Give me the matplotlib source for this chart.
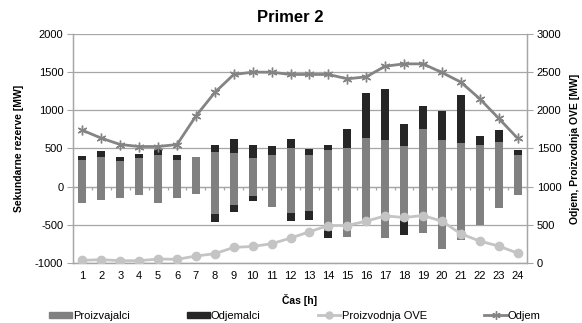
import matplotlib.pyplot as plt
import matplotlib.patches as mpatches
import matplotlib.lines as mlines
import numpy as np

plt.rcParams.update({
    "font.family": ["Liberation Sans", "DejaVu Sans"],
    "font.size": 8,
    "axes.unicode_minus": False,
})

# hours
hours = np.arange(1, 25)

# secondary reserve (left axis), upward / downward parts
proizv_up = [350, 395, 340, 375, 415, 350, 390, 455, 440, 380, 410, 510,
             410, 475, 505, 640, 605, 535, 750, 615, 575, 545, 585, 420]
odjem_up = [50, 70, 50, 50, 80, 65, 0, 95, 190, 170, 125, 110,
            80, 70, 255, 585, 680, 280, 305, 380, 620, 120, 155, 60]
proizv_down = [-210, -175, -150, -115, -220, -150, -90, -360, -235, -125, -260, -340,
               -325, -585, -655, -470, -670, -455, -605, -815, -705, -500, -275, -115]
odjem_down = [0, 0, 0, 0, 0, 0, 0, -105, -95, -60, 0, -115,
              -115, -85, 0, 0, 0, -180, 0, 0, 0, 0, 0, 0]

# right axis series
odjem = [1739, 1635, 1552, 1526, 1526, 1552, 1926, 2235, 2470, 2500, 2500, 2470,
         2470, 2470, 2413, 2439, 2578, 2609, 2609, 2496, 2370, 2152, 1896, 1635]
ove = [35, 43, 30, 30, 52, 48, 91, 122, 204, 217, 252, 326,
       409, 491, 491, 548, 617, 596, 622, 548, 383, 287, 222, 130]

C_PROIZV = "#808080"
C_ODJ = "#262626"
C_OVE = "#c4c4c4"
C_LINE = "#848484"
C_GRID = "#a6a6a6"

fig = plt.figure(figsize=(5.82, 3.23), dpi=100)
ax = fig.add_axes([0.1254, 0.1858, 0.7801, 0.7089])
ax2 = ax.twinx()

w = 0.42
ax.bar(hours, proizv_up, width=w, color=C_PROIZV, zorder=2)
ax.bar(hours, odjem_up, width=w, bottom=proizv_up, color=C_ODJ, zorder=2)
ax.bar(hours, proizv_down, width=w, color=C_PROIZV, zorder=2)
ax.bar(hours, odjem_down, width=w, bottom=proizv_down, color=C_ODJ, zorder=2)

ax.set_xlim(0.5, 24.5)
ax.set_ylim(-1000, 2000)
ax.set_yticks(np.arange(-1000, 2001, 500))
ax.set_xticks(hours)
ax.tick_params(axis="x", length=0, pad=6, labelsize=8)
ax.tick_params(axis="y", length=4, color=C_GRID, labelsize=8, pad=3)
ax.yaxis.grid(True, color=C_GRID, linewidth=0.9)
ax.set_axisbelow(True)

# category axis at zero with small ticks between hours
ax.axhline(0, color=C_GRID, linewidth=0.9, zorder=1)
ax.vlines(np.arange(0.5, 25, 1), -40, 0, color=C_GRID, linewidth=0.9, zorder=1)

for sp in ["top"]:
    ax.spines[sp].set_visible(False)
    ax2.spines[sp].set_visible(False)
for a in (ax, ax2):
    for sp in ["left", "right", "bottom"]:
        a.spines[sp].set_color(C_GRID)
        a.spines[sp].set_linewidth(0.9)

ax.set_ylabel("Sekundarne rezerve [MW]", fontweight="bold", fontsize=7.5, labelpad=8)
ax.set_xlabel("Čas [h]", fontweight="bold", fontsize=7.5, labelpad=9)

ax2.plot(hours, ove, color=C_OVE, linewidth=2, marker="o", markersize=6, zorder=3)
ax2.plot(hours, odjem, color=C_LINE, linewidth=2, marker=(6, 2, 0), markersize=7,
         markeredgewidth=1, zorder=4)
ax2.set_ylim(0, 3000)
ax2.set_yticks(np.arange(0, 3001, 500))
ax2.tick_params(axis="y", length=4, color=C_GRID, labelsize=8, pad=3)
ax2.set_ylabel("Odjem, Proizvodnja OVE [MW]", fontweight="bold", fontsize=7.5, labelpad=6)

fig.text(0.498, 0.945, "Primer 2", ha="center", va="center", fontsize=12, fontweight="bold")

handles = [
    mpatches.Patch(color=C_PROIZV, label="Proizvajalci"),
    mpatches.Patch(color=C_ODJ, label="Odjemalci"),
    mlines.Line2D([], [], color=C_OVE, linewidth=2, marker="o", markersize=5,
                  label="Proizvodnja OVE"),
    mlines.Line2D([], [], color=C_LINE, linewidth=2, marker=(6, 2, 0), markersize=6,
                  label="Odjem"),
]
fig.legend(handles=handles, loc="center", bbox_to_anchor=(0.507, 0.022), ncol=4,
           frameon=False, fontsize=8, handlelength=2.0, handleheight=0.5,
           handletextpad=0.1, columnspacing=5.2)

fig.savefig("out.png", dpi=100)
